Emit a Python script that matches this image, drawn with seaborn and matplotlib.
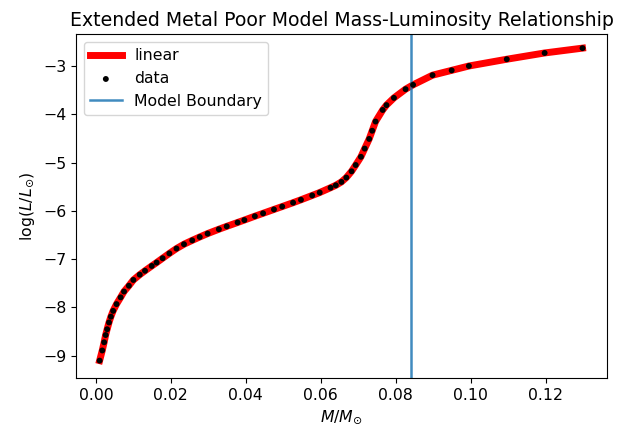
import matplotlib
matplotlib.use("Agg")
import matplotlib.pyplot as plt
import seaborn as sns

# mass in solar units, log luminosity
mass = [0.001, 0.0017, 0.0022, 0.0026, 0.003, 0.0035, 0.004, 0.0046, 0.0055,
        0.0066, 0.0075, 0.0088, 0.010, 0.0117, 0.0131, 0.0149, 0.0162, 0.0178,
        0.0196, 0.0215, 0.0235, 0.0257, 0.0277, 0.0298, 0.0328, 0.0349, 0.0378,
        0.0396, 0.0424, 0.0446, 0.0475, 0.0497, 0.0526, 0.0547, 0.0577, 0.0597,
        0.0626, 0.064, 0.0655, 0.0668, 0.0682, 0.0693, 0.0707, 0.0717, 0.0729,
        0.0737, 0.0746, 0.0765, 0.0775, 0.0795, 0.0826, 0.0846, 0.0898, 0.0949,
        0.0995, 0.1096, 0.1197, 0.1298]
log_lum = [-9.1, -8.89, -8.72, -8.57, -8.45, -8.31, -8.19, -8.07, -7.93,
           -7.79, -7.67, -7.55, -7.43, -7.32, -7.24, -7.14, -7.07, -6.98,
           -6.88, -6.78, -6.69, -6.61, -6.54, -6.47, -6.38, -6.32, -6.24,
           -6.19, -6.11, -6.05, -5.97, -5.91, -5.83, -5.77, -5.68, -5.62,
           -5.52, -5.47, -5.40, -5.31, -5.18, -5.05, -4.88, -4.71, -4.51,
           -4.34, -4.15, -3.91, -3.81, -3.66, -3.48, -3.39, -3.19, -3.09,
           -3.00, -2.86, -2.73, -2.63]
boundary = 0.084

plt.rcParams["font.size"] = 11.3

fig = plt.figure(figsize=(6.18, 4.32), dpi=100)
ax = fig.add_axes([0.123, 0.125, 0.859, 0.796])

sns.lineplot(x=mass, y=log_lum, color="red", linewidth=5, label="linear",
             sort=False, ax=ax)
sns.scatterplot(x=mass, y=log_lum, color="black", s=18, edgecolor="none",
                label="data", ax=ax, zorder=3)
ax.axvline(boundary, color="C0", linewidth=1.8, alpha=0.85, label="Model Boundary")

ax.set_xlim(-0.0053, 0.1363)
ax.set_ylim(-9.46, -2.34)
ax.set_xticks([0.0, 0.02, 0.04, 0.06, 0.08, 0.10, 0.12])
ax.set_xlabel(r"$M/M_{\odot}$")
ax.set_ylabel(r"$\log(L/L_{\odot})$")
ax.set_title("Extended Metal Poor Model Mass-Luminosity Relationship", fontsize=13.6)
ax.legend(loc="upper left")

fig.savefig("out.png", dpi=100)
